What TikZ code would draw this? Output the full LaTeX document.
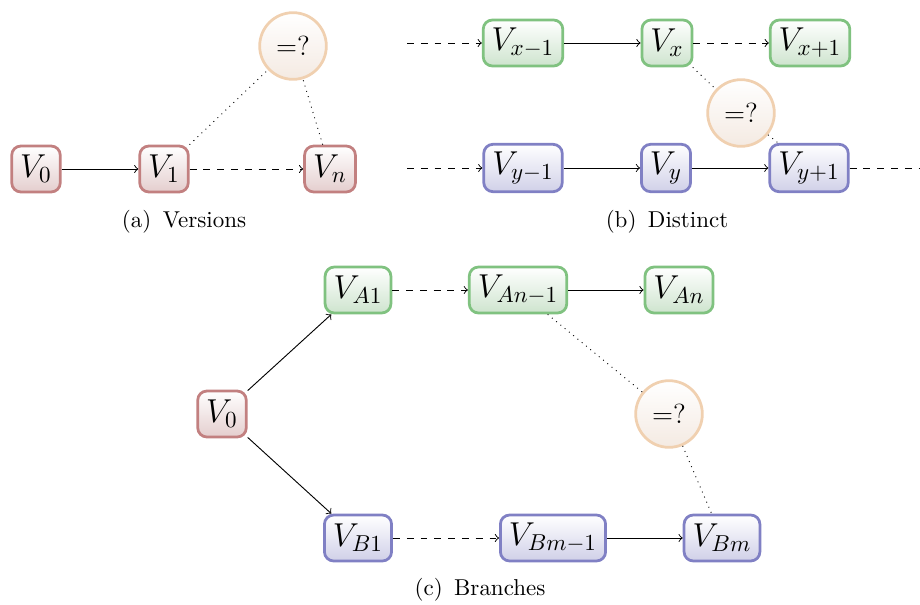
\documentclass[tikz,border=0pt]{standalone}
\usepackage{amsmath, amssymb}
\usepackage{tikz}
\usetikzlibrary{positioning}

\definecolor{redline}{RGB}{194,128,128}
\definecolor{redfill}{RGB}{228,206,206}
\definecolor{greenline}{RGB}{128,194,128}
\definecolor{greenfill}{RGB}{206,228,206}
\definecolor{blueline}{RGB}{128,128,196}
\definecolor{bluefill}{RGB}{208,208,232}
\definecolor{eqline}{RGB}{240,208,176}
\definecolor{eqfill}{RGB}{244,234,226}

\tikzset{
  version/.style={draw, rounded corners=4pt, line width=1.2pt, font=\Large,
    inner xsep=3.7pt, minimum height=20pt},
  rednode/.style={version, draw=redline, top color=white, bottom color=redfill},
  greennode/.style={version, draw=greenline, top color=white, bottom color=greenfill},
  bluenode/.style={version, draw=blueline, top color=white, bottom color=bluefill},
  eqnode/.style={circle, draw=eqline, line width=1.2pt, font=\large, top color=white,
    bottom color=eqfill, minimum size=29pt, inner sep=0pt},
}

\begin{document}
\begin{tikzpicture}[x=0.435pt, y=0.435pt]
            \useasboundingbox (0,0) rectangle (920,604);
            % (a) versions
            \node[rednode] (a0) at (36,435) {$V_0$};
            \node[rednode] (a1) at (164,435) {$V_1$};
            \node[rednode] (an) at (330,435) {$V_n$};
            \node[eqnode] (aeq) at (293,558) {=?};
            \draw[->] (a0) -- (a1);
            \draw[->, dashed] (a1) -- (an);
            \draw[dotted] (a1) -- (aeq);
            \draw[dotted] (an) -- (aeq);
            \node (acap) at (184,382) {(a)\enspace Versions};
            % (b) distinct
            \coordinate (xin) at (407,561);
            \coordinate (yin) at (407,436);
            \coordinate (yout) at (920,436);
            \node[greennode] (xprev) at (523,561) {$V_{x-1}$};
            \node[greennode] (x) at (667,561) {$V_x$};
            \node[greennode] (xnext) at (810,561) {$V_{x+1}$};
            \node[bluenode] (yprev) at (523,436) {$V_{y-1}$};
            \node[bluenode] (y) at (666,436) {$V_y$};
            \node[bluenode] (ynext) at (809,436) {$V_{y+1}$};
            \node[eqnode] (beq) at (741,491) {=?};
            \draw[->, dashed] (xin) -- (xprev);
            \draw[->] (xprev) -- (x);
            \draw[->, dashed] (x) -- (xnext);
            \draw[->, dashed] (yin) -- (yprev);
            \draw[->] (yprev) -- (y);
            \draw[->] (y) -- (ynext);
            \draw[dashed] (ynext) -- (yout);
            \draw[dotted] (x) -- (beq);
            \draw[dotted] (beq) -- (ynext);
            \node (bcap) at (667,382) {(b)\enspace Distinct};
            % (c) branches
            \node[rednode] (c0) at (222,190) {$V_0$};
            \node[greennode] (a1c) at (358,314) {$V_{A1}$};
            \node[greennode] (anprev) at (518,314) {$V_{An-1}$};
            \node[greennode] (anc) at (679,314) {$V_{An}$};
            \node[bluenode] (b1c) at (358,66) {$V_{B1}$};
            \node[bluenode] (bmprev) at (553,66) {$V_{Bm-1}$};
            \node[bluenode] (bmc) at (722,66) {$V_{Bm}$};
            \node[eqnode] (ceq) at (669,190) {=?};
            \draw[->] (c0) -- (a1c);
            \draw[->] (c0) -- (b1c);
            \draw[->, dashed] (a1c) -- (anprev);
            \draw[->] (anprev) -- (anc);
            \draw[->, dashed] (b1c) -- (bmprev);
            \draw[->] (bmprev) -- (bmc);
            \draw[dotted] (anprev) -- (ceq);
            \draw[dotted] (ceq) -- (bmc);
            \node (ccap) at (480,14) {(c)\enspace Branches};
        \end{tikzpicture}
\end{document}
